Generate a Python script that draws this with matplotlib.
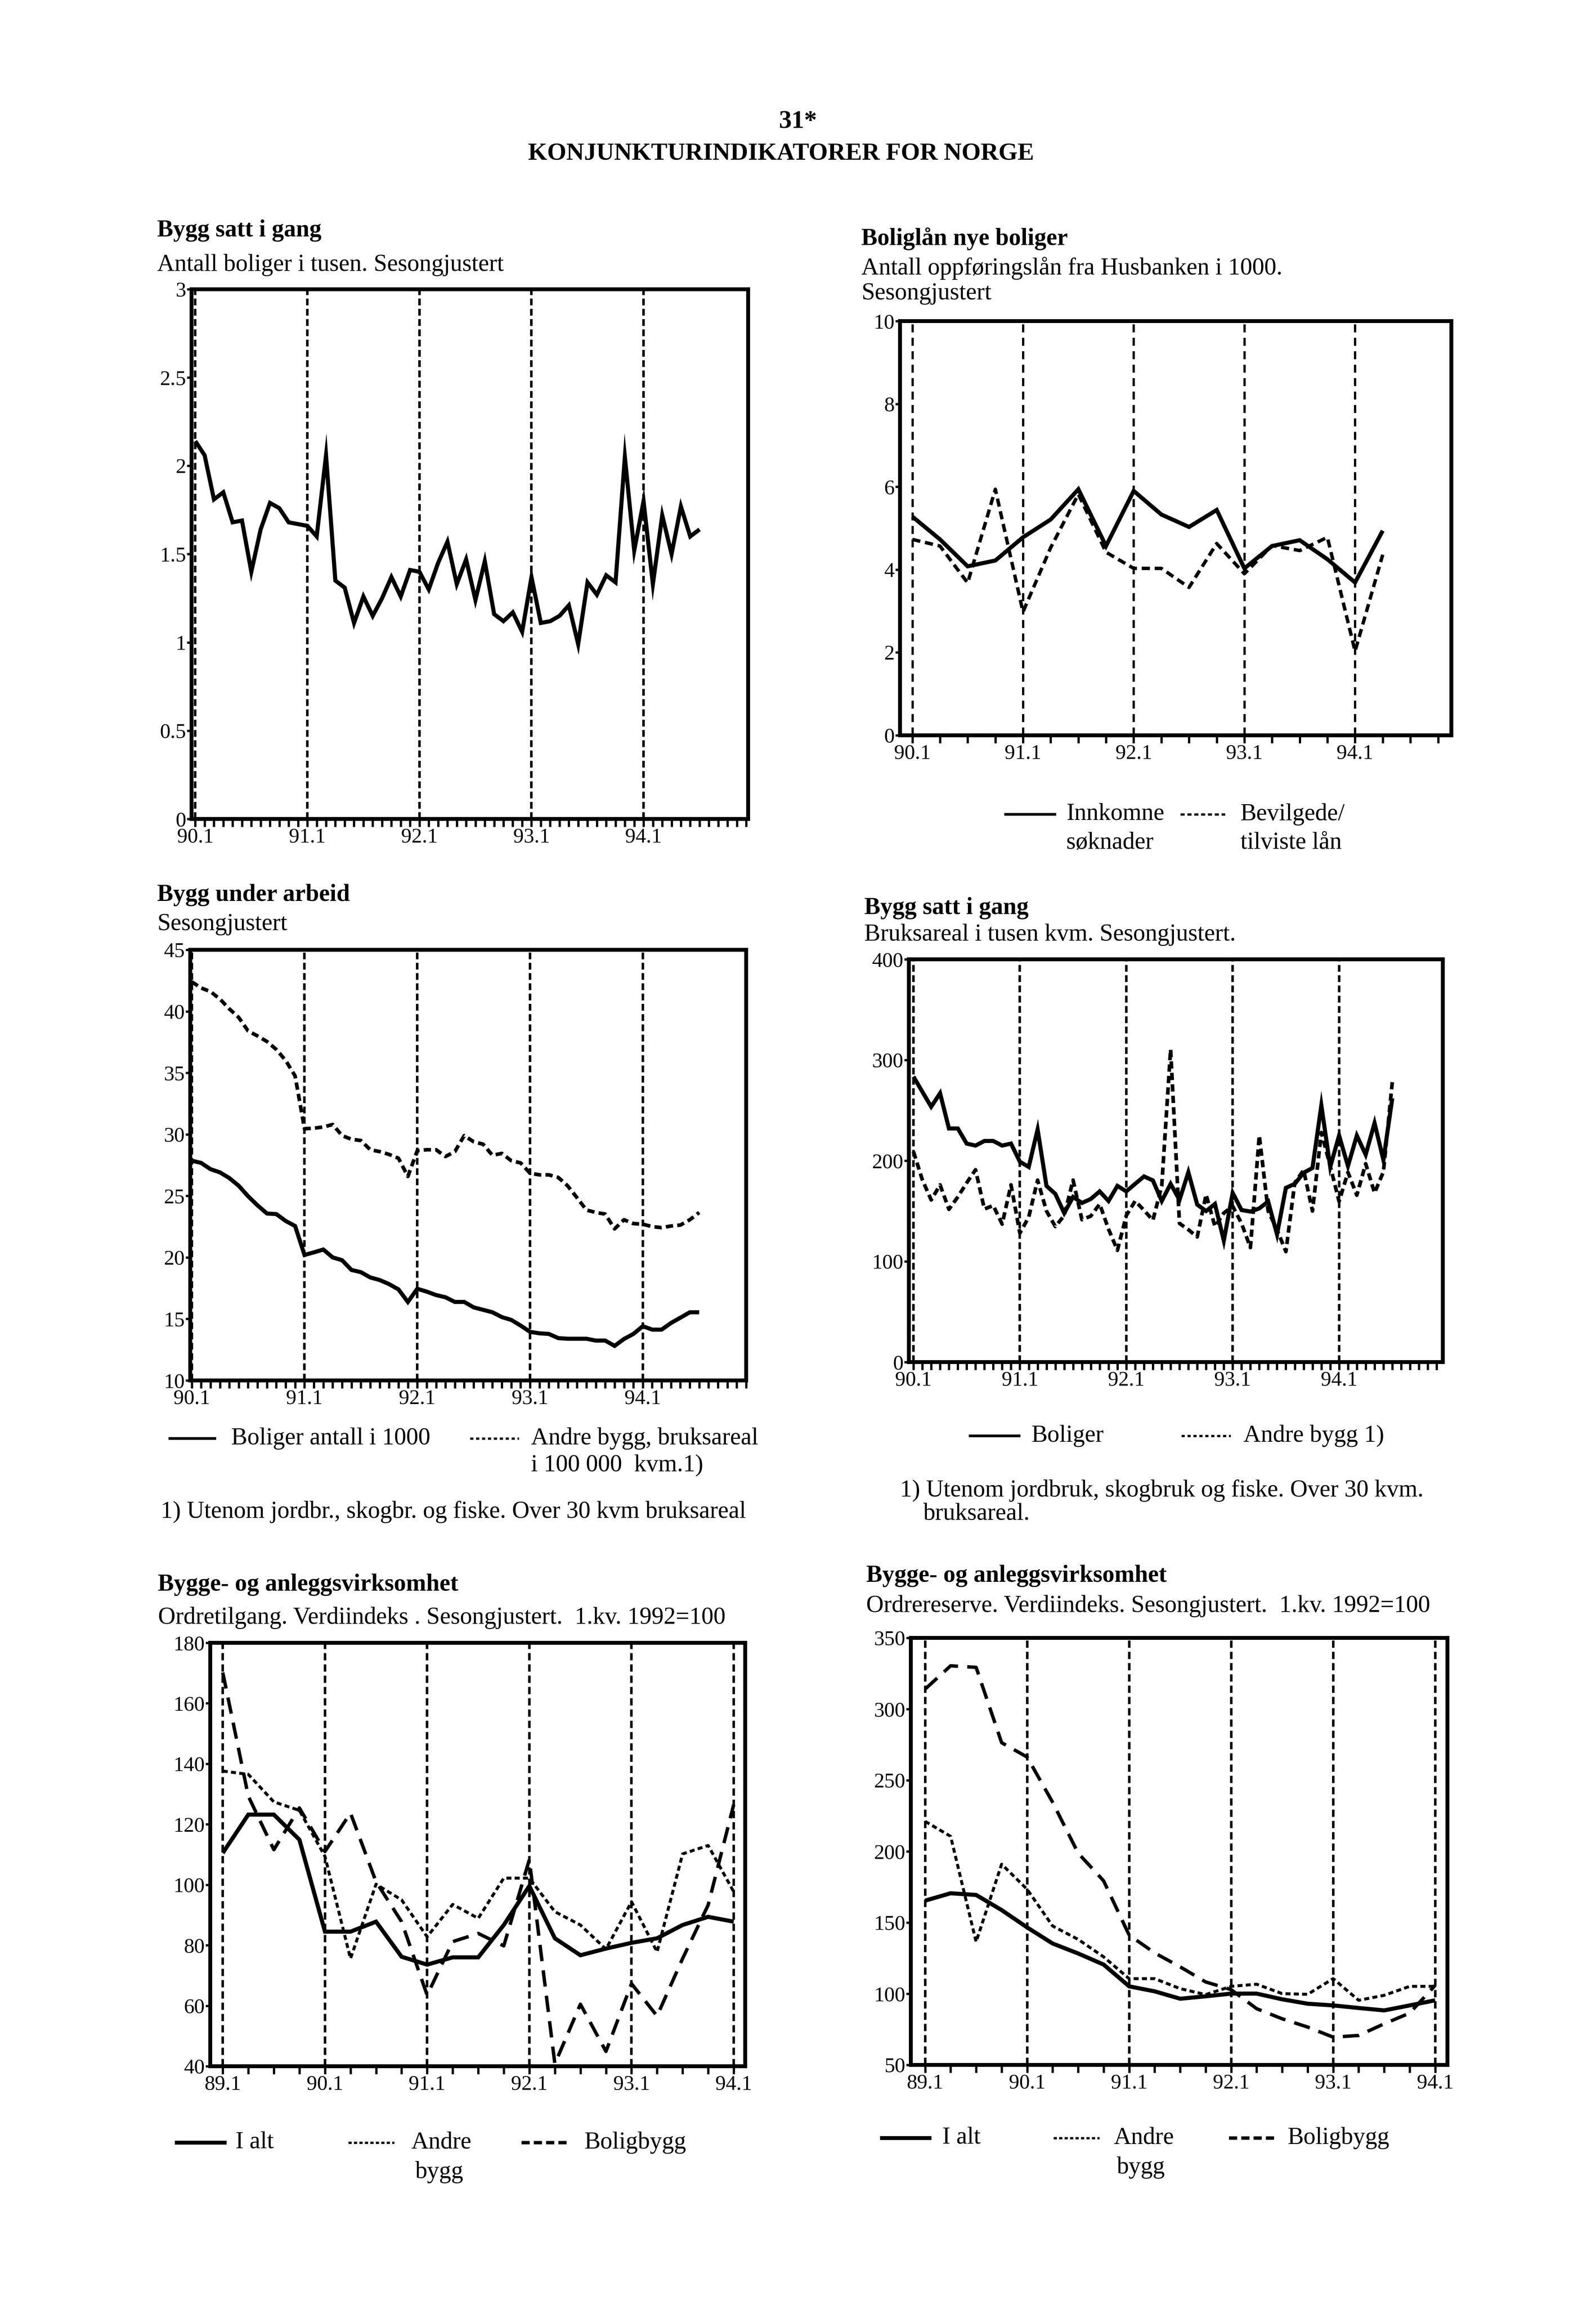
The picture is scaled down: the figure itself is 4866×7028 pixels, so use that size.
import numpy as np
import matplotlib
matplotlib.use('Agg')
import matplotlib.pyplot as plt
from matplotlib.lines import Line2D

W, H = 4866, 7028
DPI = 100
plt.rcParams['font.family'] = ['Liberation Serif', 'DejaVu Serif']

# ---------------- data ----------------
# Panel 1: Bygg satt i gang, antall boliger i tusen (monthly from 90.1)
p1_boliger = [2.14, 2.06, 1.81, 1.85, 1.68, 1.69, 1.40, 1.64, 1.79, 1.76,
              1.68, 1.67, 1.66, 1.60, 2.06, 1.35, 1.31, 1.11, 1.26, 1.15,
              1.25, 1.37, 1.26, 1.41, 1.40, 1.30, 1.45, 1.57, 1.33, 1.47,
              1.24, 1.46, 1.16, 1.12, 1.17, 1.06, 1.37, 1.11, 1.12, 1.15,
              1.21, 0.99, 1.34, 1.27, 1.38, 1.34, 2.05, 1.52, 1.80, 1.33,
              1.72, 1.50, 1.77, 1.60, 1.64]
p1_xlabels = ['90.1', '91.1', '92.1', '93.1', '94.1']
p1_yticks = [0, 0.5, 1, 1.5, 2, 2.5, 3]
p1_yticklabels = ['0', '0.5', '1', '1.5', '2', '2.5', '3']

# Panel 2: Boliglån nye boliger (quarterly from 90.1)
p2_innkomne = [5.28, 4.73, 4.08, 4.22, 4.78, 5.21, 5.94, 4.57, 5.90, 5.33,
               5.03, 5.44, 4.03, 4.57, 4.71, 4.25, 3.69, 4.94]
p2_bevilgede = [4.73, 4.57, 3.68, 5.94, 2.98, 4.53, 5.82, 4.42, 4.03, 4.03,
                3.57, 4.63, 3.90, 4.58, 4.46, 4.78, 2.03, 4.36]
p2_xlabels = ['90.1', '91.1', '92.1', '93.1', '94.1']
p2_yticks = [0, 2, 4, 6, 8, 10]

# Panel 3: Bygg under arbeid (monthly from 90.1)
p3_boliger = [27.86, 27.68, 27.17, 26.91, 26.45, 25.82, 24.97, 24.23, 23.57, 23.52,
              22.96, 22.55, 20.20, 20.41, 20.64, 20.00, 19.77, 18.98, 18.80, 18.37,
              18.16, 17.83, 17.40, 16.38, 17.45, 17.22, 16.94, 16.76, 16.38, 16.38,
              15.94, 15.74, 15.54, 15.15, 14.92, 14.46, 13.95, 13.83, 13.78, 13.44,
              13.39, 13.39, 13.39, 13.24, 13.24, 12.81, 13.37, 13.78, 14.41, 14.13,
              14.13, 14.67, 15.10, 15.54, 15.54]
p3_andre = [42.4, 41.9, 41.6, 41.0, 40.2, 39.5, 38.4, 38.0, 37.55, 36.9,
            36.0, 34.75, 30.46, 30.5, 30.6, 30.8, 29.9, 29.6, 29.5, 28.75,
            28.6, 28.37, 28.06, 26.58, 28.67, 28.75, 28.75, 28.2, 28.6, 29.9,
            29.4, 29.2, 28.3, 28.45, 27.86, 27.68, 26.84, 26.71, 26.71, 26.5,
            25.82, 24.85, 23.85, 23.65, 23.52, 22.32, 23.06, 22.75, 22.7, 22.5,
            22.42, 22.55, 22.63, 23.06, 23.65]
p3_xlabels = ['90.1', '91.1', '92.1', '93.1', '94.1']
p3_yticks = [10, 15, 20, 25, 30, 35, 40, 45]

# Panel 4: Bygg satt i gang, bruksareal i tusen kvm (monthly from 90.1)
p4_boliger = [283.5, 268.5, 253.6, 267, 232, 232, 217, 215, 219.6, 219.6,
              215, 217, 199, 193.8, 231, 175, 167, 148, 164, 158,
              162, 169.5, 160, 175, 169.5, 177, 184.4, 180.4, 160, 177,
              161, 188.5, 156.4, 150, 157, 120.6, 168, 151, 149.5, 152.6,
              159.5, 126.8, 173, 177, 188, 192.8, 255, 193.8, 225, 194.7,
              225, 206, 237.4, 200.6, 262]
p4_andre = [209, 181, 161, 176, 151.7, 164, 178, 191, 152, 155.5,
            137, 176, 128, 144, 180.7, 150, 134.6, 145.5, 180.7, 141.4,
            145, 157, 132, 111, 145.5, 160, 150.8, 140.8, 175, 310.6,
            137.7, 131.5, 124.3, 166.4, 134.6, 148, 154.8, 137.7, 113.7, 225,
            150, 131.5, 109.7, 178, 190.7, 150, 228, 194.7, 159.5, 188.5,
            165.7, 197, 168, 189, 278]
p4_xlabels = ['90.1', '91.1', '92.1', '93.1', '94.1']
p4_yticks = [0, 100, 200, 300, 400]

# Panel 5: Ordretilgang (quarterly from 89.1)
p5_ialt = [110.5, 123.2, 123.2, 114.9, 84.5, 84.5, 87.8, 76.2, 73.6, 76.0,
           76.0, 86.7, 99.6, 82.3, 76.7, 78.9, 80.8, 82.3, 86.7, 89.4, 87.8]
p5_andre = [137.6, 136.5, 127.4, 124.6, 109.4, 75.6, 100.2, 95.0, 82.8, 93.5,
            88.9, 102.2, 102.2, 91.1, 86.7, 78.7, 94.4, 77.8, 110.2, 113.0, 97.7]
p5_bolig = [170.2, 129.3, 111.6, 125.4, 111.0, 123.7, 101.0, 87.8, 63.5, 81.2,
            83.9, 79.8, 108.3, 40.8, 60.5, 44.9, 67.3, 56.6, 75.6, 93.3, 126.5]
p5_xlabels = ['89.1', '90.1', '91.1', '92.1', '93.1', '94.1']
p5_yticks = [40, 60, 80, 100, 120, 140, 160, 180]

# Panel 6: Ordrereserve (quarterly from 89.1)
p6_ialt = [165.4, 170.6, 169.4, 158.8, 146.6, 135.3, 128.3, 120.5, 105.2, 101.7,
           96.5, 98.2, 100.1, 100.1, 96.1, 93.0, 91.8, 90.0, 88.3, 91.8, 95.4]
p6_andre = [221.1, 210.6, 136.5, 191.0, 173.4, 147.6, 138.2, 125.9, 110.6, 110.6,
            103.6, 99.4, 105.2, 106.7, 100.1, 99.6, 110.6, 95.4, 98.9, 105.2, 105.2]
p6_bolig = [314.0, 330.4, 329.3, 276.4, 266.3, 234.5, 198.8, 179.3, 141.2, 128.7,
            118.9, 108.3, 102.9, 89.5, 82.4, 76.6, 69.5, 70.7, 78.9, 86.4, 105.9]
p6_xlabels = ['89.1', '90.1', '91.1', '92.1', '93.1', '94.1']
p6_yticks = [50, 100, 150, 200, 250, 300, 350]

# ---------------- styles ----------------
TXT = 53
TICK = 46
SOLID = dict(color='black', lw=9.0, solid_joinstyle='miter', solid_capstyle='butt')
DASH = dict(color='black', lw=8.0, dashes=(2.0, 1.15))
SHORT = dict(color='black', lw=6.5, dashes=(1.7, 1.1))
LONG = dict(color='black', lw=7.5, dashes=(4.8, 2.7))
VLINE = dict(color='black', lw=5.5, dashes=(2.7, 1.4))
SPINE = 8.5

fig = plt.figure(figsize=(W / DPI, H / DPI), dpi=DPI)
fig.patch.set_facecolor('white')


def add_ax(l, t, r, b):
    return fig.add_axes([l / W, 1 - b / H, (r - l) / W, (b - t) / H])


def ftext(x, y, s, size=TXT, bold=False, ha='left'):
    fig.text(x / W, 1 - y / H, s, fontsize=size, ha=ha, va='center',
             fontweight='bold' if bold else 'normal')


def fline(x1, x2, y, style):
    fig.add_artist(Line2D([x1 / W, x2 / W], [1 - y / H, 1 - y / H],
                          transform=fig.transFigure, **style))


def style_axes(ax, ntick, period, xlabels, xlim, ylim, yticks, yticklabels=None,
               vstyle=VLINE):
    ax.set_xlim(*xlim)
    ax.set_ylim(*ylim)
    for s in ax.spines.values():
        s.set_linewidth(SPINE)
    ticks = np.arange(ntick)
    labs = [''] * ntick
    for i, s in enumerate(xlabels):
        labs[i * period] = s
    ax.set_xticks(ticks)
    ax.set_xticklabels(labs)
    ax.set_yticks(yticks)
    ax.set_yticklabels(yticklabels if yticklabels else [str(v) for v in yticks])
    ax.tick_params(axis='x', direction='out', length=17, width=5, pad=3,
                   labelsize=TICK)
    ax.tick_params(axis='y', direction='out', length=10, width=5, pad=2,
                   labelsize=TICK)
    for i in range(len(xlabels)):
        ax.axvline(i * period, zorder=1, **vstyle)


# ---------------- header ----------------
ftext(2433, 372, '31*', size=56, bold=True, ha='center')
ftext(2381, 470, 'KONJUNKTURINDIKATORER FOR NORGE', size=54, bold=True, ha='center')

# ---------------- panel 1 ----------------
ftext(479, 703, 'Bygg satt i gang', bold=True)
ftext(479, 808, 'Antall boliger i tusen. Sesongjustert')
ax1 = add_ax(584, 882, 2281, 2497)
ax1.plot(np.arange(len(p1_boliger)), p1_boliger, zorder=3, **SOLID)
style_axes(ax1, 60, 12, p1_xlabels, (-0.4, 59.2), (0, 3), p1_yticks, p1_yticklabels)

# ---------------- panel 2 ----------------
ftext(2626, 728, 'Boliglån nye boliger', bold=True)
ftext(2626, 818, 'Antall oppføringslån fra Husbanken i 1000.')
ftext(2626, 895, 'Sesongjustert')
ax2 = add_ax(2744, 979, 4425, 2242)
ax2.plot(np.arange(len(p2_innkomne)), p2_innkomne, zorder=3, **SOLID)
p2dash = dict(color='black', lw=7.5, dashes=(2.4, 1.4))
ax2.plot(np.arange(len(p2_bevilgede)), p2_bevilgede, zorder=3, **p2dash)
style_axes(ax2, 20, 4, p2_xlabels, (-0.445, 19.48), (0, 10), p2_yticks,
           vstyle=dict(color='black', lw=5.0, dashes=(3.5, 2.4)))
fline(3066, 3216, 2483, dict(color='black', lw=6.0))
ftext(3251, 2483, 'Innkomne')
ftext(3251, 2570, 'søknader')
fline(3599, 3735, 2483, dict(color='black', lw=5.0, dashes=(1.8, 1.2)))
ftext(3782, 2483, 'Bevilgede/')
ftext(3782, 2570, 'tilviste lån')

# ---------------- panel 3 ----------------
ftext(479, 2729, 'Bygg under arbeid', bold=True)
ftext(479, 2818, 'Sesongjustert')
ax3 = add_ax(580, 2896, 2275, 4209)
ax3.plot(np.arange(len(p3_boliger)), p3_boliger, zorder=3, **SOLID)
ax3.plot(np.arange(len(p3_andre)), p3_andre, zorder=3, **DASH)
style_axes(ax3, 60, 12, p3_xlabels, (-0.16, 58.75), (10, 45), p3_yticks)
fline(518, 655, 4386, dict(color='black', lw=6.0))
ftext(705, 4386, 'Boliger antall i 1000')
fline(1433, 1582, 4386, dict(color='black', lw=5.0, dashes=(1.4, 1.2)))
ftext(1619, 4386, 'Andre bygg, bruksareal')
ftext(1619, 4468, 'i 100 000  kvm.1)')
ftext(490, 4610, '1) Utenom jordbr., skogbr. og fiske. Over 30 kvm bruksareal')

# ---------------- panel 4 ----------------
ftext(2635, 2769, 'Bygg satt i gang', bold=True)
ftext(2635, 2850, 'Bruksareal i tusen kvm. Sesongjustert.')
ax4 = add_ax(2771, 2925, 4399, 4153)
ax4.plot(np.arange(len(p4_boliger)), p4_boliger, zorder=3, **SOLID)
ax4.plot(np.arange(len(p4_andre)), p4_andre, zorder=3, **DASH)
style_axes(ax4, 60, 12, p4_xlabels, (-0.52, 59.7), (0, 400), p4_yticks)
fline(2958, 3107, 4378, dict(color='black', lw=6.0))
ftext(3145, 4378, 'Boliger')
fline(3602, 3752, 4378, dict(color='black', lw=5.0, dashes=(1.4, 1.2)))
ftext(3791, 4378, 'Andre bygg 1)')
ftext(2744, 4545, '1) Utenom jordbruk, skogbruk og fiske. Over 30 kvm.')
ftext(2815, 4616, 'bruksareal.')

# ---------------- panel 5 ----------------
ftext(481, 4832, 'Bygge- og anleggsvirksomhet', bold=True)
ftext(482, 4933, 'Ordretilgang. Verdiindeks . Sesongjustert.  1.kv. 1992=100')
ax5 = add_ax(641, 5009, 2272, 6300)
x5 = np.arange(len(p5_ialt))
ax5.plot(x5, p5_ialt, zorder=3, **SOLID)
ax5.plot(x5, p5_andre, zorder=3, **SHORT)
ax5.plot(x5, p5_bolig, zorder=3, **LONG)
style_axes(ax5, 21, 4, p5_xlabels, (-0.49, 20.45), (40, 180), p5_yticks,
           vstyle=dict(color='black', lw=5.5, dashes=(2.9, 1.6)))
fline(539, 685, 6533, dict(color='black', lw=8.5))
ftext(718, 6533, 'I alt')
fline(1062, 1202, 6533, dict(color='black', lw=5.0, dashes=(1.4, 1.0)))
ftext(1253, 6533, 'Andre')
ftext(1266, 6623, 'bygg')
fline(1590, 1738, 6533, dict(color='black', lw=7.5, dashes=(2.4, 1.2)))
ftext(1782, 6533, 'Boligbygg')

# ---------------- panel 6 ----------------
ftext(2641, 4805, 'Bygge- og anleggsvirksomhet', bold=True)
ftext(2641, 4897, 'Ordrereserve. Verdiindeks. Sesongjustert.  1.kv. 1992=100')
ax6 = add_ax(2777, 4994, 4413, 6296)
x6 = np.arange(len(p6_ialt))
ax6.plot(x6, p6_ialt, zorder=3, **SOLID)
ax6.plot(x6, p6_andre, zorder=3, **SHORT)
ax6.plot(x6, p6_bolig, zorder=3, **LONG)
style_axes(ax6, 21, 4, p6_xlabels, (-0.56, 20.48), (50, 350), p6_yticks,
           vstyle=dict(color='black', lw=5.5, dashes=(2.9, 1.6)))
fline(2689, 2834, 6519, dict(color='black', lw=8.5))
ftext(2873, 6519, 'I alt')
fline(3212, 3352, 6519, dict(color='black', lw=5.0, dashes=(1.4, 1.0)))
ftext(3395, 6519, 'Andre')
ftext(3405, 6609, 'bygg')
fline(3747, 3892, 6519, dict(color='black', lw=7.5, dashes=(2.4, 1.2)))
ftext(3926, 6519, 'Boligbygg')

fig.savefig('out.png', dpi=DPI, facecolor='white')
